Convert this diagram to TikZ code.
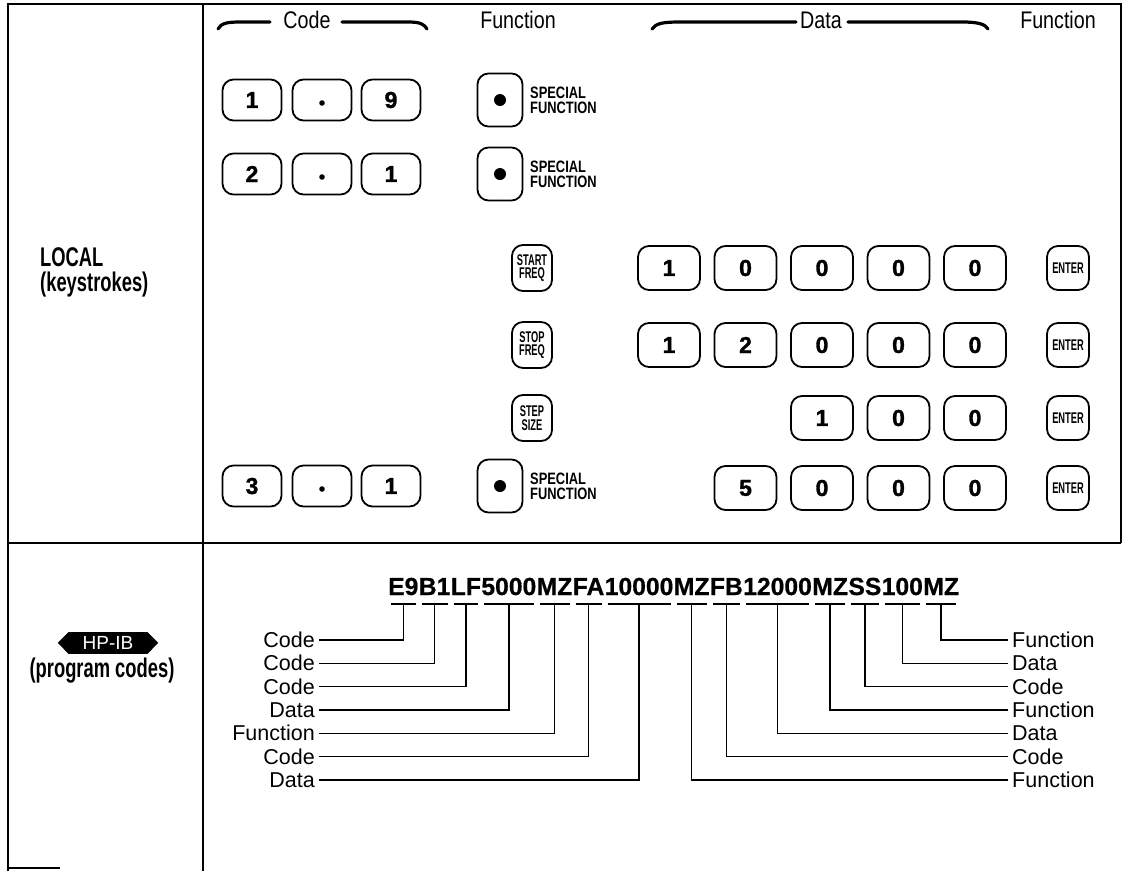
\documentclass[tikz,border=0pt]{standalone}
\usepackage{fontspec}
\setmainfont{Liberation Sans}
\newfontfamily\condf[FakeStretch=0.82]{Liberation Sans}
\newfontfamily\boldcond[FakeStretch=0.68]{Liberation Sans Bold}
\newfontfamily\keycond[FakeStretch=0.78]{Liberation Sans Bold}
\newfontfamily\narrowf[FakeStretch=0.6]{Liberation Sans Bold}
\newfontfamily\heavyf[FakeBold=1.4]{Liberation Sans Bold}
\newfontfamily\codef[FakeBold=0.6]{Liberation Sans Bold}
\usetikzlibrary{calc}
\begin{document}
\begin{tikzpicture}[x=1pt,y=-1pt,
  frame/.style={line width=2.6pt},
  innerline/.style={line width=1.5pt},
  key/.style={draw, line width=1.8pt, rounded corners=11pt, minimum width=59pt, minimum height=41pt, inner sep=0pt, font=\fontsize{23}{23}\selectfont\heavyf},
  dkey/.style={key, minimum width=62pt, minimum height=44pt},
  fkey/.style={key, minimum width=40pt, minimum height=46pt, align=center, font=\fontsize{15.5}{13.5}\selectfont\narrowf},
  ekey/.style={fkey, minimum width=42pt, minimum height=44pt},
  sfkey/.style={key, minimum width=45pt, minimum height=53pt},
  sftext/.style={anchor=west, align=left, inner sep=0pt, font=\fontsize{16.5}{15}\selectfont\keycond},
  hdr/.style={font=\fontsize{24}{24}\selectfont\condf, inner sep=1pt},
  bracepart/.style={line width=3.2pt, line cap=round},
  side/.style={font=\fontsize{27}{27}\selectfont\boldcond, anchor=west, inner sep=0pt},
  grp/.style={inner sep=0pt, anchor=base west, font=\fontsize{24.7}{25}\selectfont\codef},
  lab/.style={font=\fontsize{21.5}{21.5}\selectfont, inner xsep=4pt, inner ysep=0pt, text height=15pt, text depth=0pt},
  tick/.style={line width=1.6pt},
  conn/.style={line width=1.4pt}]
\path[use as bounding box] (0,0) rectangle (1126,871);
% frame
\draw[frame] (8,871) -- (8,4) -- (1121,4) -- (1121,543);
\draw[innerline] (8,543) -- (1121,543);
\draw[innerline] (203,4) -- (203,871);
\draw[frame] (8,868) -- (60,868);
% headers
\node[hdr] (hcode) at (307,20) {Code};
\node[hdr] (hfun1) at (518,20) {Function};
\node[hdr] (hdata) at (821,20) {Data};
\node[hdr] (hfun2) at (1058,20) {Function};
\draw[bracepart] (218,29) .. controls (221,23) and (228,22) .. (240,22) -- (270,22);
\draw[bracepart] (342,22) -- (408,22) .. controls (420,22) and (424,24) .. (427,29);
\draw[bracepart] (652,29) .. controls (656,23) and (664,22) .. (680,22) -- (796,22);
\draw[bracepart] (848,22) -- (962,22) .. controls (978,22) and (985,24) .. (988,29);
% side labels
\node[side] (local) at (40,257) {LOCAL};
\node[side] (keystr) at (40,285) {(keystrokes)};
\node[fill=black, text=white, inner sep=0pt, minimum width=78pt, minimum height=22pt, text height=13pt, text depth=0pt, font=\fontsize{19}{19}\selectfont] (hpib) at (108,643) {HP-IB};
\fill (hpib.north west) -- ++(-11,11) -- (hpib.south west) -- cycle;
\fill (hpib.north east) -- ++(11,11) -- (hpib.south east) -- cycle;
\node[side, anchor=center] (prog) at (102,671) {(program codes)};
% row 1
\node[key] (a1) at (252,100) {1};
\node[key] (a2) at (322,100) {};
\node[key] (a3) at (391,100) {9};
\fill (a2.center) ++(0,3) circle (2.8);
\node[sfkey] (asf) at (500,100) {};
\fill (asf.center) circle (6);
\node[sftext] (ast) at (530,100) {SPECIAL\\FUNCTION};
% row 2
\node[key] (b1) at (252,174) {2};
\node[key] (b2) at (322,174) {};
\node[key] (b3) at (391,174) {1};
\fill (b2.center) ++(0,3) circle (2.8);
\node[sfkey] (bsf) at (500,174) {};
\fill (bsf.center) circle (6);
\node[sftext] (bst) at (530,174) {SPECIAL\\FUNCTION};
% row 3
\node[fkey] (cf) at (532,268) {START\\FREQ};
\node[dkey] (c1) at (669,268) {1};
\node[dkey] (c2) at (745.5,268) {0};
\node[dkey] (c3) at (822,268) {0};
\node[dkey] (c4) at (898.5,268) {0};
\node[dkey] (c5) at (975,268) {0};
\node[ekey] (ce) at (1068,268) {ENTER};
% row 4
\node[fkey] (df) at (532,345) {STOP\\FREQ};
\node[dkey] (d1) at (669,345) {1};
\node[dkey] (d2) at (745.5,345) {2};
\node[dkey] (d3) at (822,345) {0};
\node[dkey] (d4) at (898.5,345) {0};
\node[dkey] (d5) at (975,345) {0};
\node[ekey] (de) at (1068,345) {ENTER};
% row 5
\node[fkey] (ef) at (532,418) {STEP\\SIZE};
\node[dkey] (e3) at (822,418) {1};
\node[dkey] (e4) at (898.5,418) {0};
\node[dkey] (e5) at (975,418) {0};
\node[ekey] (ee) at (1068,418) {ENTER};
% row 6
\node[key] (f1) at (252,486) {3};
\node[key] (f2) at (322,486) {};
\node[key] (f3) at (391,486) {1};
\fill (f2.center) ++(0,3) circle (2.8);
\node[sfkey] (fsf) at (500,486) {};
\fill (fsf.center) circle (6);
\node[sftext] (fst) at (530,486) {SPECIAL\\FUNCTION};
\node[dkey] (f6) at (745.5,488) {5};
\node[dkey] (f7) at (822,488) {0};
\node[dkey] (f8) at (898.5,488) {0};
\node[dkey] (f9) at (975,488) {0};
\node[ekey] (fe) at (1068,488) {ENTER};
% program code string
\node[grp] (g1) at (388,595) {E9};
\node[grp] (g2) at (g1.base east) {B1};
\node[grp] (g3) at (g2.base east) {LF};
\node[grp] (g4) at (g3.base east) {5000};
\node[grp] (g5) at (g4.base east) {MZ};
\node[grp] (g6) at (g5.base east) {FA};
\node[grp] (g7) at (g6.base east) {10000};
\node[grp] (g8) at (g7.base east) {MZ};
\node[grp] (g9) at (g8.base east) {FB};
\node[grp] (g10) at (g9.base east) {12000};
\node[grp] (g11) at (g10.base east) {MZ};
\node[grp] (g12) at (g11.base east) {SS};
\node[grp] (g13) at (g12.base east) {100};
\node[grp] (g14) at (g13.base east) {MZ};
\foreach \i in {1,...,14}{
  \draw[tick] ($(g\i.base west)+(3,9)$) -- ($(g\i.base east)+(-3,9)$);
}
% left labels
\node[lab, anchor=east] (l1) at (319,640) {Code};
\node[lab, anchor=east] (l2) at (319,663.3) {Code};
\node[lab, anchor=east] (l3) at (319,686.7) {Code};
\node[lab, anchor=east] (l4) at (319,710) {Data};
\node[lab, anchor=east] (l5) at (319,733.3) {Function};
\node[lab, anchor=east] (l6) at (319,756.7) {Code};
\node[lab, anchor=east] (l7) at (319,780) {Data};
% right labels
\node[lab, anchor=west] (r1) at (1008,640) {Function};
\node[lab, anchor=west] (r2) at (1008,663.3) {Data};
\node[lab, anchor=west] (r3) at (1008,686.7) {Code};
\node[lab, anchor=west] (r4) at (1008,710) {Function};
\node[lab, anchor=west] (r5) at (1008,733.3) {Data};
\node[lab, anchor=west] (r6) at (1008,756.7) {Code};
\node[lab, anchor=west] (r7) at (1008,780) {Function};
% connectors
\draw[conn] ($(g1.base)+(0,9)$) |- (l1.east);
\draw[conn] ($(g2.base)+(0,9)$) |- (l2.east);
\draw[conn] ($(g3.base)+(0,9)$) |- (l3.east);
\draw[conn] ($(g4.base)+(0,9)$) |- (l4.east);
\draw[conn] ($(g5.base)+(0,9)$) |- (l5.east);
\draw[conn] ($(g6.base)+(0,9)$) |- (l6.east);
\draw[conn] ($(g7.base)+(0,9)$) |- (l7.east);
\draw[conn] ($(g8.base)+(0,9)$) |- (r7.west);
\draw[conn] ($(g9.base)+(0,9)$) |- (r6.west);
\draw[conn] ($(g10.base)+(0,9)$) |- (r5.west);
\draw[conn] ($(g11.base)+(0,9)$) |- (r4.west);
\draw[conn] ($(g12.base)+(0,9)$) |- (r3.west);
\draw[conn] ($(g13.base)+(0,9)$) |- (r2.west);
\draw[conn] ($(g14.base)+(0,9)$) |- (r1.west);
\end{tikzpicture}
\end{document}
